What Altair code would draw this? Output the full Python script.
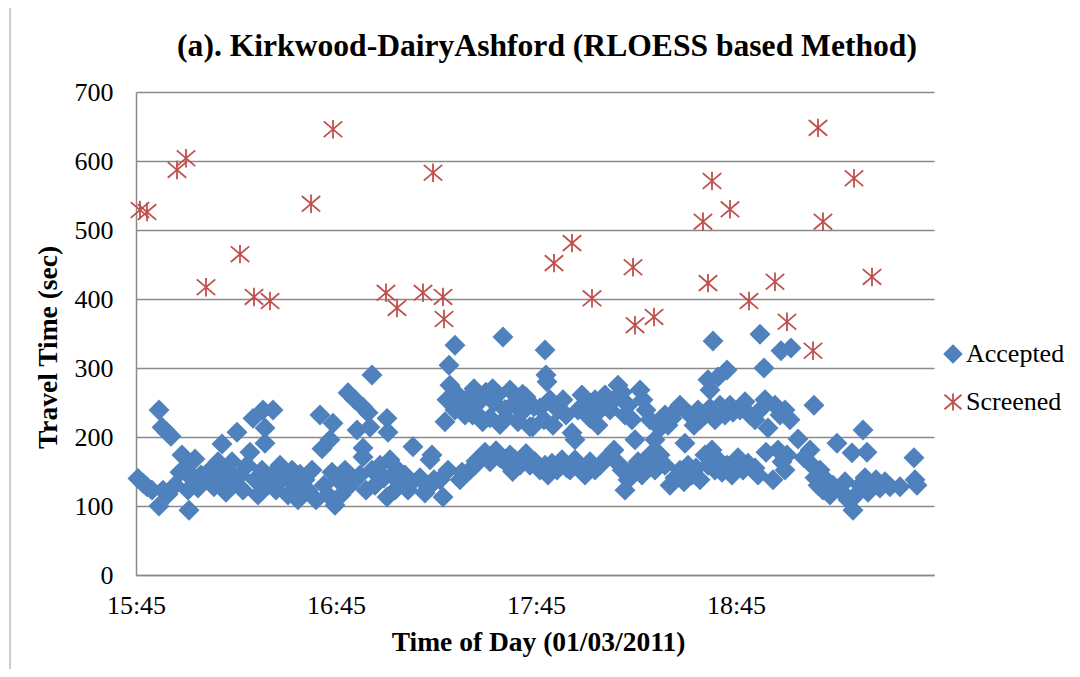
import altair as alt
import pandas as pd

FONT = "Liberation Serif"
BLUE = "#4F81BD"
RED = "#C0504D"
GRID = "#8a8a8a"

# x positions are minutes after 15:45
tick_minutes = [0, 60, 120, 180]
tick_labels = ["15:45", "16:45", "17:45", "18:45"]
y_ticks = [0, 100, 200, 300, 400, 500, 600, 700]
series_names = ["Accepted", "Screened"]

acc_time = [
    0.6, 2.1, 3.3, 4.8, 6.9, 6.9, 7.8, 9.3, 10.5, 8.1, 9.6,
    11.7, 13.2, 13.8, 15, 15.9, 15.6, 17.7, 17.1, 18.6, 19.5,
    21, 22.2, 23.4, 24.6, 25.8, 25.2, 27, 27.6, 28.8, 29.1,
    30.3, 31.2, 32.1, 33.3, 34.2, 35.1, 35.7, 36.6, 38.1, 38.7, 38.7, 37.8, 39.6,
    41.1, 40.8, 42, 43.2, 44.4, 45.6, 46.8, 48, 49.2, 48.6,
    50.7, 51.6, 52.8, 54, 55.2, 55.8, 56.4, 57.6, 58.2, 59.1, 58.8, 59.7,
    60.6, 61.5, 62.7, 63.6, 64.2, 65.7, 66.3, 67.2, 68.1, 68.1, 68.1, 69, 69.6,
    70.2, 70.8, 70.8, 71.7, 73.2, 74.4, 75.3, 75.3, 75.6, 76.2, 76.8, 77.7, 78.6, 79.2,
    80.7, 81.6, 82.2, 83.1, 85.2, 86.7, 87.6, 88.2, 88.8, 89.4,
    92.7, 93.9, 95.7, 92.1, 91.2, 93.6, 94.2, 94.8, 95.7, 93.3, 96.6, 97.2, 97.8, 98.7, 99,
    100.2, 101.4, 102.6, 103.8, 105, 106.2, 107.4, 108.6, 109.2, 100.2, 101.7, 103.2, 104.7, 106.2, 107.7, 109.2, 110.1,
    101, 104, 107, 102, 108,
    110.7, 112.2, 113.7, 114.6, 115.8, 117, 118.2, 119.4, 110.7, 112.2, 113.7, 115.2, 116.7, 118.2, 119.7,
    111, 116, 119, 113, 117,
    122.7, 123, 123.3, 121.2, 122.4, 124.2, 125.1, 126.6, 128.1, 129, 121.2, 122.7, 123.6, 124.8, 126.3, 127.8, 129.3,
    130.8, 131.7, 132.6, 133.8, 134.7, 136.2, 137.7, 138.6, 139.2, 130.2, 131.7, 133.2, 134.7, 136.2, 137.7, 139.2,
    140.7, 142.2, 143.4, 144.6, 145.8, 146.7, 147.6, 148.8, 149.7, 140.7, 142.2, 143.4, 144.6, 145.8, 146.7, 147.6, 148.8,
    151.2, 152.1, 153, 154.2, 155.7, 157.2, 158.7, 159.6, 150.6, 151.8, 153, 154.2, 155.7, 157.2, 158.7,
    160.8, 162, 163.2, 164.7, 166.2, 167.4, 168.6, 169.2, 160.2, 161.7, 163.2, 164.4, 165.6, 166.8, 168, 169.2,
    171.6, 172.2, 173.1, 174.6, 177.3, 170.7, 172.2, 173.7, 175.2, 176.7, 178.2, 179.1, 170.7, 171.6, 172.8, 173.7, 174.6, 175.8, 177.3, 178.8,
    185.7, 187.2, 188.4, 181.2, 182.7, 184.2, 185.7, 187.2, 188.7, 189.6, 180.6, 182.1, 183.6, 186.6, 189,
    193.5, 196.5, 191.7, 193.2, 194.7, 196.2, 192.6, 193.8, 194.7, 195.3, 198.6, 191.1,
    203.4, 202.2, 202.8, 203.7, 204.6, 205.2, 206.1, 207, 208.2, 209.1, 200.4,
    210.3, 211.2, 212.7, 213.6, 214.8, 215.1, 216, 217.2, 218.1, 218.7, 219.3, 219.6,
    220.8, 222, 223.2, 224.7, 226.2, 229.2, 233.4, 233.7, 234.3,
]
acc_tt = [
    140, 133, 128, 123, 100, 239, 214, 207, 201, 123, 117,
    130, 149, 174, 152, 94, 123, 168, 138, 126, 145,
    141, 152, 128, 164, 190, 138, 120, 152, 164, 132,
    207, 145, 123, 159, 178, 227, 138, 116, 239, 213, 191, 152, 130,
    239, 145, 123, 159, 141, 116, 152, 130, 146, 109,
    138, 123, 152, 109, 232, 183, 130, 116, 196, 220, 149, 101,
    138, 116, 152, 264, 130, 254, 210, 145, 243, 184, 171, 123, 235,
    214, 290, 152, 130, 159, 141, 227, 113, 207, 167, 145, 123, 152, 133,
    145, 123, 132, 186, 141, 119, 126, 167, 174, 138,
    222, 304, 333, 113, 138, 152, 275, 254, 239, 254, 261, 138, 149, 232, 254,
    246, 270, 232, 255, 265, 228, 250, 262, 218, 152, 159, 170, 178, 164, 174, 170, 345,
    232, 222, 270, 165, 180,
    240, 268, 250, 222, 236, 258, 215, 244, 164, 174, 167, 159, 167, 159, 164,
    228, 262, 215, 150, 176,
    326, 290, 280, 242, 225, 254, 217, 239, 254, 232, 152, 159, 145, 162, 152, 167, 155,
    206, 196, 239, 261, 246, 227, 254, 217, 239, 152, 167, 155, 145, 164, 152, 159,
    261, 239, 254, 275, 265, 232, 246, 225, 196, 167, 174, 181, 162, 152, 123, 138, 152,
    268, 254, 239, 225, 196, 213, 232, 217, 164, 145, 159, 174, 152, 174, 159,
    227, 239, 246, 191, 232, 217, 239, 225, 130, 141, 152, 135, 159, 145, 155, 138,
    283, 268, 339, 287, 297, 232, 242, 225, 246, 232, 246, 236, 174, 159, 181, 152, 167, 149, 159, 145,
    155, 349, 300, 239, 251, 232, 225, 239, 254, 213, 170, 152, 162, 145, 178,
    325, 329, 246, 232, 239, 225, 181, 164, 152, 174, 197, 138,
    246, 181, 159, 141, 130, 152, 123, 138, 116, 130, 170,
    191, 123, 135, 109, 177, 94, 116, 130, 210, 141, 178, 120,
    130, 138, 126, 135, 128, 128, 170, 138, 130,
]

scr_time = [1.2, 3.3, 12.3, 15.0, 21.0, 31.2, 35.4, 40.2, 52.5, 59.1, 75.0, 78.3,
            86.1, 89.1, 92.1, 92.4, 125.4, 130.8, 136.8, 149.1, 149.7, 155.4,
            170.1, 171.6, 172.8, 178.2, 183.9, 191.7, 195.3, 203.1, 204.6, 206.1,
            215.4, 220.8]
scr_tt = [529, 526, 587, 604, 417, 465, 403, 397, 538, 646, 409, 387,
          409, 583, 403, 371, 452, 481, 401, 446, 362, 374,
          512, 423, 571, 530, 397, 425, 367, 325, 648, 512,
          575, 432]

assert len(acc_time) == len(acc_tt)
assert len(scr_time) == len(scr_tt)

df = pd.DataFrame({"t": acc_time, "v": acc_tt, "series": "Accepted"})
df = pd.concat(
    [df, pd.DataFrame({"t": scr_time, "v": scr_tt, "series": "Screened"})],
    ignore_index=True,
)

label_expr = " : ".join(
    f"datum.value == {m} ? '{l}'" for m, l in zip(tick_minutes, tick_labels)
) + " : ''"

ASTER = "M0,-1L0,1M-1,-0.85L1,0.85M-1,0.85L1,-0.85"

legend = alt.Legend(
    orient="none", legendX=804, legendY=249, labelFont=FONT, labelFontSize=26,
    labelColor="black", symbolSize=289, symbolStrokeWidth=1.8, rowPadding=22,
    labelOffset=0, padding=0,
)

points = alt.Chart(df).mark_point(opacity=1, strokeWidth=1.8, size=340).encode(
    x=alt.X(
        "t:Q",
        scale=alt.Scale(domain=[0, 239.4], nice=False, zero=False),
        axis=alt.Axis(
            values=tick_minutes, labelExpr=label_expr, title="Time of Day (01/03/2011)",
            grid=False, ticks=False, domainColor=GRID, domainWidth=1.5,
            labelFontSize=26, labelPadding=17, labelFlush=False,
            titleFontSize=27.5, titleFontWeight="bold", titleX=402, titleY=67,
            titleBaseline="middle", titleAlign="center",
        ),
    ),
    y=alt.Y(
        "v:Q",
        scale=alt.Scale(domain=[0, 700], nice=False),
        axis=alt.Axis(
            values=y_ticks, title="Travel Time (sec)", ticks=False,
            grid=True, gridColor=GRID, gridWidth=1.5,
            domainColor=GRID, domainWidth=1.5,
            labelFontSize=26, labelPadding=23,
            titleFontSize=27.5, titleFontWeight="bold", titleX=-88, titleY=255,
            titleAngle=-90, titleBaseline="middle", titleAlign="center",
        ),
    ),
    fill=alt.Fill("series:N", title=None,
                  scale=alt.Scale(domain=series_names, range=[BLUE, "transparent"]),
                  legend=legend),
    stroke=alt.Stroke("series:N", title=None,
                      scale=alt.Scale(domain=series_names, range=[BLUE, RED]),
                      legend=legend),
    shape=alt.Shape("series:N", title=None,
                    scale=alt.Scale(domain=series_names, range=["diamond", ASTER]),
                    legend=legend),
)

border = alt.Chart(pd.DataFrame({"k": [0]})).mark_rule(
    color="#9a9a9a", strokeWidth=1
).encode(x=alt.value(-126), y=alt.value(-92), y2=alt.value(590))

chart = alt.layer(points, border).properties(
    width=798,
    height=483,
    autosize=alt.AutoSizeParams(type="none"),
    padding={"left": 128, "top": 84, "right": 138, "bottom": 94},
    title=alt.Title(
        text="(a). Kirkwood-DairyAshford (RLOESS based Method)",
        font=FONT, fontSize=31.6, fontWeight="bold", color="black",
        anchor="middle", frame="group", baseline="alphabetic", offset=-88, dx=12,
    ),
).configure(
    background="white", font=FONT
).configure_axis(
    labelFont=FONT, titleFont=FONT, labelColor="black", titleColor="black",
).configure_legend(
    labelFont=FONT
).configure_view(
    strokeWidth=0
)

chart.save("out.html", embed_options={"renderer": "svg", "actions": False})
